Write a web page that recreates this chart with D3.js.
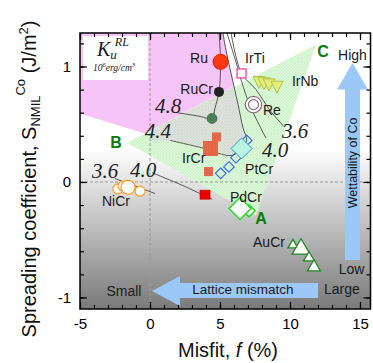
<!DOCTYPE html>
<html>
<head>
<meta charset="utf-8">
<script src="https://cdn.jsdelivr.net/npm/d3@7"></script>
<style>
body { margin: 0; background: #fff; }
svg { display: block; font-family: "Liberation Sans", Arial, sans-serif; }
</style>
</head>
<body>
<svg id="chart" width="373" height="363"></svg>
<script>
// misfit f (%) / spreading coefficient S (J/m2) per alloy
var ruF = [5.04], ruS = [1.04];
var ruCrF = [4.93], ruCrS = [0.78];
var ruCr2F = [4.43], ruCr2S = [0.55];
var irTiF = [6.54], irTiS = [0.94];
var irNbF = [7.79, 8.14, 8.5, 9.07], irNbS = [0.87, 0.86, 0.85, 0.83];
var reF = [7.39], reS = [0.67];
var ptCrF = [6.91, 6.14, 5.64, 5.05], ptCrS = [0.36, 0.21, 0.13, 0.075];
var ptCrBigF = [6.54], ptCrBigS = [0.29];
var irCrF = [4.32, 4.75, 4.18], irCrS = [0.29, 0.39, 0.09];
var redF = [3.93], redS = [-0.11];
var niCrF = [-2.29, -1.93, -1.57, -0.71], niCrS = [-0.06, -0.035, -0.045, -0.08];
var pdCrF = [7.07, 6.43], pdCrS = [-0.25, -0.23];
var auCrF = [10.21, 10.79, 11.36, 11.71], auCrS = [-0.54, -0.57, -0.65, -0.73];

// Ku^RL iso-lines (10^6 erg/cm3)
var kuLevels = ["4.8", "4.4", "4.0", "3.6"];
var ku48F = [1.93, 3.5, 4.43, 4.64, 4.93, 5.04, 4.93], ku48S = [0.60, 0.57, 0.55, 0.64, 0.78, 1.04, 1.29];
var ku44F = [1.43, 3.57, 5.86, 6.54, 6.91, 6.64, 6.29, 5.79, 5.43, 5.21];
var ku44S = [0.36, 0.30, 0.23, 0.29, 0.36, 0.47, 0.67, 0.94, 1.14, 1.29];
var ku40F = [5.5, 6.14, 6.86, 7.57, 8.29], ku40S = [1.29, 1.04, 0.75, 0.55, 0.38];
var ku36F = [5.79, 6.54, 7.57, 8.57, 9.57], ku36S = [1.29, 0.94, 0.80, 0.62, 0.48];
var ku40LF = [0.14, 2.14, 4.43], ku40LS = [0.08, -0.02, -0.15];
var ku36LF = [-2.5, 0.36], ku36LS = [0.03, -0.10];

// shaded regions
var pinkF = [-5, 5.21, 5.57, 6.0, -0.36, -5], pinkS = [1.29, 1.29, 1.06, 0.83, 0.42, 0.59];
var greenF = [-1.64, 11.86, 7.57], greenS = [0.34, 1.19, -0.29];
var grayF = [0, 6.0, 6.29, 6.71, 6.91, 6.54, 5.86, 3.93, 1.29, 0];
var grayS = [0.44, 0.83, 0.67, 0.45, 0.36, 0.29, 0.23, 0.30, 0.36, 0.35];

var xMajor = [-5, 0, 5, 10, 15];
var yMajor = [-1, 0, 1];

var svg = d3.select("#chart");
var x = d3.scaleLinear().domain([-5, 15.75]).range([80, 370.5]);
var y = d3.scaleLinear().domain([-1.1, 1.29]).range([309, 33]);
var pts = function(fs, ss) { return fs.map(function(f, i) { return [x(f), y(ss[i])]; }); };

var defs = svg.append("defs");
var grad = defs.append("linearGradient").attr("id", "bg")
	.attr("x1", 0).attr("y1", 0).attr("x2", 0).attr("y2", 1);
grad.append("stop").attr("offset", 0).attr("stop-color", "#fff");
grad.append("stop").attr("offset", 0.42).attr("stop-color", "#fff");
grad.append("stop").attr("offset", 1).attr("stop-color", "#7a7a7a");

function hatch(id, base, line) {
	var p = defs.append("pattern").attr("id", id).attr("patternUnits", "userSpaceOnUse")
		.attr("width", 3).attr("height", 3);
	p.append("rect").attr("width", 3).attr("height", 3).attr("fill", base);
	p.append("path").attr("d", "M0,0L3,3M3,0L0,3").attr("stroke", line).attr("stroke-width", 0.6);
}
hatch("hGreen", "#cdf3c9", "#e4fae2");
hatch("hGray", "#d4dbd2", "#e3e8e1");
hatch("hRed", "#dc5535", "#f08a6a");
hatch("hDark", "#3b6e47", "#6f9c78");

// background
svg.append("rect").attr("x", 80).attr("y", 33).attr("width", 290.5).attr("height", 276).attr("fill", "url(#bg)");

var poly = d3.line();
svg.append("path").attr("d", poly(pts(pinkF, pinkS)) + "Z").attr("fill", "#f6c4f6");
svg.append("path").attr("d", poly(pts(greenF, greenS)) + "Z").attr("fill", "url(#hGreen)");
svg.append("path").attr("d", poly(pts(grayF, grayS)) + "Z").attr("fill", "url(#hGray)");

// zero lines
svg.append("line").attr("x1", x(0)).attr("x2", x(0)).attr("y1", 33).attr("y2", 309)
	.attr("stroke", "#9a9a9a").attr("stroke-width", 1).attr("stroke-dasharray", "3,2");
svg.append("line").attr("x1", 80).attr("x2", 370.5).attr("y1", y(0)).attr("y2", y(0))
	.attr("stroke", "#9a9a9a").attr("stroke-width", 1).attr("stroke-dasharray", "3,2");

// iso lines
var curve = d3.line().curve(d3.curveCatmullRom.alpha(0.5));
[[ku48F, ku48S], [ku44F, ku44S], [ku40F, ku40S], [ku36F, ku36S], [ku40LF, ku40LS], [ku36LF, ku36LS]]
	.forEach(function(l) {
		svg.append("path").attr("d", curve(pts(l[0], l[1])))
			.attr("fill", "none").attr("stroke", "#333").attr("stroke-width", 0.8);
	});

// iso line labels
var kuPos = [[1.29, 0.60], [0.57, 0.38], [-0.5, 0.043], [-3.21, 0.035], [8.93, 0.216], [10.36, 0.38]];
var kuTxt = [kuLevels[0], kuLevels[1], kuLevels[2], kuLevels[3], kuLevels[2], kuLevels[3]];
svg.selectAll(".ku").data(kuPos).enter().append("text")
	.attr("x", function(d) { return x(d[0]); }).attr("y", function(d) { return y(d[1]); })
	.attr("text-anchor", "middle").style("font-family", "'Liberation Serif', serif")
	.style("font-style", "italic").style("font-size", "21px").attr("fill", "#222")
	.text(function(d, i) { return kuTxt[i]; });

// arrows
var blue = "#9cc8f8";
svg.append("path").attr("fill", blue).attr("d", poly([
	[x(14.46), y(1.03)], [x(15.57), y(0.80)], [x(15.0), y(0.80)], [x(15.0), y(-0.675)],
	[x(13.93), y(-0.675)], [x(13.93), y(0.80)], [x(13.36), y(0.80)]]) + "Z");
svg.append("path").attr("fill", blue).attr("d", poly([
	[x(0.14), y(-0.944)], [x(2.14), y(-0.814)], [x(2.14), y(-0.874)], [x(12.0), y(-0.874)],
	[x(12.0), y(-1.004)], [x(2.14), y(-1.004)], [x(2.14), y(-1.074)]]) + "Z");

// markers
function diamond(h) { return "M0," + (-h) + "L" + h + ",0L0," + h + "L" + (-h) + ",0Z"; }
function tri(w, h) { return "M0," + (-h) + "L" + w + "," + (h * 0.7) + "L" + (-w) + "," + (h * 0.7) + "Z"; }
function place(sel, fs, ss) {
	return svg.selectAll(null).data(pts(fs, ss)).enter().append(sel)
		.attr("transform", function(d) { return "translate(" + d[0] + "," + d[1] + ")"; });
}

place("circle", ruF, ruS).attr("r", 7.5).attr("fill", "#ff3a10").attr("stroke", "#e02000");
place("circle", ruCrF, ruCrS).attr("r", 5).attr("fill", "#222");
place("circle", ruCr2F, ruCr2S).attr("r", 5).attr("fill", "url(#hDark)").attr("stroke", "#2f5a3a").attr("stroke-width", 0.6);

var irCrSize = [15, 9, 9];
place("rect", irCrF, irCrS)
	.attr("x", function(d, i) { return -irCrSize[i] / 2; }).attr("y", function(d, i) { return -irCrSize[i] / 2; })
	.attr("width", function(d, i) { return irCrSize[i]; }).attr("height", function(d, i) { return irCrSize[i]; })
	.attr("fill", "url(#hRed)");
place("rect", redF, redS).attr("x", -5).attr("y", -4.5).attr("width", 10).attr("height", 9)
	.attr("fill", "#ee0000").attr("stroke", "#b00000").attr("stroke-width", 0.6);

place("path", ptCrF, ptCrS).attr("d", diamond(5.3)).attr("fill", "none").attr("stroke", "#3366ee").attr("stroke-width", 1.1);
place("path", ptCrBigF, ptCrBigS).attr("d", diamond(10.5)).attr("fill", "#b8f4e0").attr("stroke", "#3a9ac0").attr("stroke-width", 1);

var pdCrSize = [6, 11];
place("path", pdCrF, pdCrS).attr("d", function(d, i) { return diamond(pdCrSize[i]); })
	.attr("fill", "#fff").attr("stroke", "#22dd22").attr("stroke-width", 1.5);

var niCrR = [5, 5, 7, 5];
place("circle", niCrF, niCrS).attr("r", function(d, i) { return niCrR[i]; })
	.attr("fill", "#fff").attr("stroke", "#ff9922").attr("stroke-width", 1.2);

var auCrW = [5, 9, 5.5, 6.5];
place("path", auCrF, auCrS).attr("d", function(d, i) { return tri(auCrW[i], auCrW[i]); })
	.attr("fill", "#fff").attr("stroke", "#228822").attr("stroke-width", 1.3);

place("rect", irTiF, irTiS).attr("x", -4.5).attr("y", -4.5).attr("width", 9).attr("height", 9)
	.attr("fill", "#fff").attr("stroke", "#ff3399").attr("stroke-width", 1.2);

place("path", irNbF, irNbS).attr("d", tri(6, 7)).attr("transform", function(d) {
	return "translate(" + d[0] + "," + d[1] + ") rotate(180)";
}).attr("fill", "#e2f07a").attr("stroke", "#b2c24a").attr("stroke-width", 1);

place("circle", reF, reS).attr("r", 8.2).attr("fill", "#fff").attr("stroke", "#8a6a7a").attr("stroke-width", 1.2);
place("circle", reF, reS).attr("r", 5).attr("fill", "none").attr("stroke", "#8a6a7a").attr("stroke-width", 1.2);

// alloy labels
var names = ["Ru", "RuCr", "IrTi", "IrNb", "Re", "IrCr", "PtCr", "PdCr", "NiCr", "AuCr"];
var nameAt = [[4.14, 1.03, "end"], [4.5, 0.76, "end"], [6.79, 1.03, "start"], [10.14, 0.83, "start"],
	[8.07, 0.58, "start"], [2.29, 0.165, "start"], [6.79, 0.07, "start"], [5.71, -0.173, "start"],
	[-3.43, -0.208, "start"], [7.36, -0.563, "start"]];
svg.selectAll(".nm").data(nameAt).enter().append("text")
	.attr("x", function(d) { return x(d[0]); }).attr("y", function(d) { return y(d[1]); })
	.attr("text-anchor", function(d) { return d[2]; })
	.style("font-size", "14px").attr("fill", "#1a1a1a")
	.text(function(d, i) { return names[i]; });

var zones = ["A", "B", "C"];
var zoneAt = [[7.93, -0.364], [-2.43, 0.294], [12.36, 1.08]];
svg.selectAll(".zn").data(zoneAt).enter().append("text")
	.attr("x", function(d) { return x(d[0]); }).attr("y", function(d) { return y(d[1]); })
	.attr("text-anchor", "middle").style("font-size", "16px").style("font-weight", "bold")
	.attr("fill", "#0a7a0a").text(function(d, i) { return zones[i]; });

// arrow texts
svg.append("text").attr("x", x(14.46)).attr("y", y(1.06)).attr("text-anchor", "middle")
	.style("font-size", "14px").attr("fill", "#1a1a1a").text("High");
svg.append("text").attr("x", x(14.4)).attr("y", y(-0.8)).attr("text-anchor", "middle")
	.style("font-size", "14px").attr("fill", "#1a1a1a").text("Low");
svg.append("text").attr("transform", "translate(" + (x(14.46) + 4.5) + "," + y(0.165) + ") rotate(-90)")
	.attr("text-anchor", "middle").style("font-size", "12.5px").attr("fill", "#1a1a1a").text("Wettability of Co");
svg.append("text").attr("x", x(-1.86)).attr("y", y(-0.987)).attr("text-anchor", "middle")
	.style("font-size", "14px").attr("fill", "#1a1a1a").text("Small");
svg.append("text").attr("x", x(13.71)).attr("y", y(-0.97)).attr("text-anchor", "middle")
	.style("font-size", "14px").attr("fill", "#1a1a1a").text("Large");
svg.append("text").attr("x", x(6.64)).attr("y", y(-0.97)).attr("text-anchor", "middle")
	.style("font-size", "13.5px").attr("fill", "#1a1a1a").text("Lattice mismatch");

// Ku legend box
svg.append("rect").attr("x", 83).attr("y", 36).attr("width", 65).attr("height", 44).attr("fill", "#fff");
var kt = svg.append("text").attr("x", 97).attr("y", 56).style("font-family", "'Liberation Serif', serif")
	.style("font-style", "italic").attr("fill", "#1a1a1a");
kt.append("tspan").style("font-size", "20px").text("K");
kt.append("tspan").style("font-size", "13px").attr("dy", 3).text("u");
kt.append("tspan").style("font-size", "12px").attr("dx", -2).attr("dy", -13).text("RL");
var kt2 = svg.append("text").attr("x", 93).attr("y", 71).style("font-family", "'Liberation Serif', serif")
	.style("font-style", "italic").style("font-size", "9.5px").attr("fill", "#1a1a1a");
kt2.append("tspan").text("10");
kt2.append("tspan").style("font-size", "6.5px").attr("dy", -4).text("6");
kt2.append("tspan").attr("dy", 4).text("erg/cm");
kt2.append("tspan").style("font-size", "6.5px").attr("dy", -4).text("3");

// axes
function axis(gen, tx, ty, vals, size, labels) {
	var g = svg.append("g").attr("transform", "translate(" + tx + "," + ty + ")")
		.call(gen.tickValues(vals).tickSize(size).tickPadding(9)
			.tickFormat(labels ? function(d) { return String(d); } : ""));
	g.select(".domain").remove();
	g.selectAll("line").attr("stroke", "#000").attr("stroke-width", 1.2);
	g.selectAll("text").style("font-size", "15px").style("font-family", "'Liberation Sans', Arial, sans-serif").attr("fill", "#000");
	return g;
}
var xMinor = d3.range(-5, 16, 1), yMinor = d3.range(-1, 1.21, 0.2);
axis(d3.axisBottom(x), 0, 309, xMinor, -4, false);
axis(d3.axisBottom(x), 0, 309, xMajor, -7, true);
axis(d3.axisTop(x), 0, 33, xMinor, -4, false);
axis(d3.axisTop(x), 0, 33, xMajor, -7, false);
axis(d3.axisLeft(y), 80, 0, yMinor, -4, false);
axis(d3.axisLeft(y), 80, 0, yMajor, -7, true);
axis(d3.axisRight(y), 370.5, 0, yMinor, -4, false);
axis(d3.axisRight(y), 370.5, 0, yMajor, -7, false);

svg.append("rect").attr("x", 80).attr("y", 33).attr("width", 290.5).attr("height", 276)
	.attr("fill", "none").attr("stroke", "#000").attr("stroke-width", 1.5);

// titles
var xt = svg.append("text").attr("x", 228).attr("y", 357).attr("text-anchor", "middle")
	.style("font-size", "20px").attr("fill", "#111");
xt.append("tspan").text("Misfit,  ");
xt.append("tspan").style("font-style", "italic").text("f");
xt.append("tspan").text(" (%)");

var yt = svg.append("text").attr("transform", "translate(36,179) rotate(-90)").attr("text-anchor", "middle")
	.style("font-size", "20px").attr("fill", "#111");
yt.append("tspan").text("Spreading coefficient, S");
yt.append("tspan").style("font-size", "13px").attr("dy", 4).text("NMIL");
yt.append("tspan").style("font-size", "13px").attr("dy", -15).text("Co");
yt.append("tspan").attr("dy", 11).text(" (J/m");
yt.append("tspan").style("font-size", "13px").attr("dy", -8).text("2");
yt.append("tspan").attr("dy", 8).text(")");
</script>
</body>
</html>
